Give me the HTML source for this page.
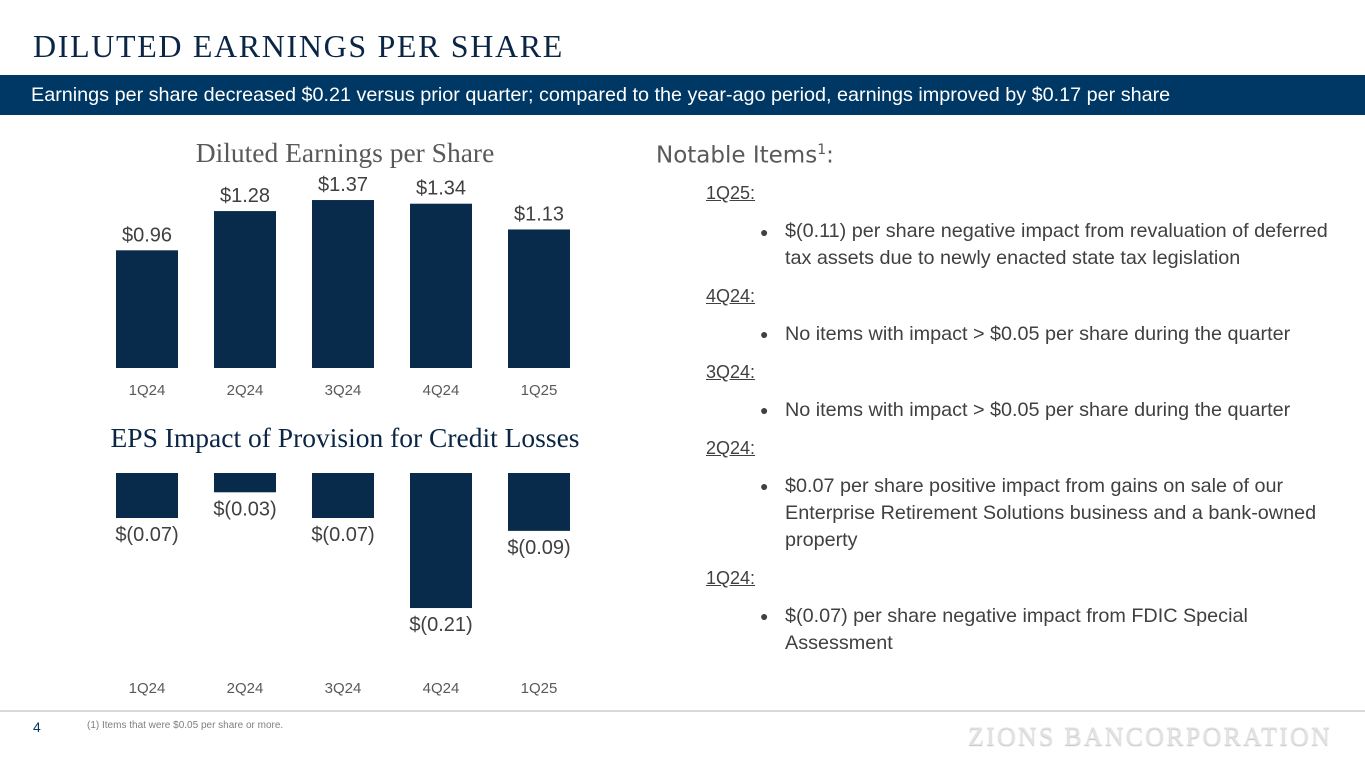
<!DOCTYPE html>
<html><head><meta charset="utf-8"><style>
body{margin:0;width:1365px;height:768px;overflow:hidden;background:#fff;position:relative;font-family:"Liberation Sans",sans-serif}
.a{position:absolute;white-space:nowrap}
.it{position:absolute;left:706px;font-size:18px;color:#404040;line-height:27px}
.h{text-decoration:underline}
.b{position:absolute;left:760px;font-size:14px;color:#404040}
.t{position:absolute;left:785px;font-size:19.8px;color:#404040;line-height:27px}
</style></head><body>
<div class="a" style="left:33px;top:28px;font-family:'Liberation Serif',serif;font-size:32px;color:#0b2645;letter-spacing:1.65px">DILUTED EARNINGS PER SHARE</div>
<div class="a" style="left:0;top:75px;width:1365px;height:40px;background:#003865"></div>
<div class="a" style="left:31px;top:84px;font-size:19.8px;color:#fff">Earnings per share decreased $0.21 versus prior quarter; compared to the year-ago period, earnings improved by $0.17 per share</div>

<svg class="a" style="left:0;top:120px" width="640" height="590">
<text x="345" y="42" text-anchor="middle" font-family="Liberation Serif,serif" font-size="27.5" fill="#595959">Diluted Earnings per Share</text>
<text x="345" y="327" text-anchor="middle" font-family="Liberation Serif,serif" font-size="27.5" fill="#0b2645">EPS Impact of Provision for Credit Losses</text>
<g id="g1"></g><g id="g2"></g>
</svg>

<div class="a" style="left:656px;top:142px;font-family:'DejaVu Sans',sans-serif;font-size:23px;color:#595959">Notable Items<sup style="font-size:14px">1</sup>:</div>
<div class="it h" style="top:180px">1Q25:</div>
<div class="b" style="top:224px">●</div>
<div class="t" style="top:218px">$(0.11) per share negative impact from revaluation of deferred<br>tax assets due to newly enacted state tax legislation</div>
<div class="it h" style="top:283px">4Q24:</div>
<div class="b" style="top:326px">●</div>
<div class="t" style="top:321px">No items with impact &gt; $0.05 per share during the quarter</div>
<div class="it h" style="top:359px">3Q24:</div>
<div class="b" style="top:402px">●</div>
<div class="t" style="top:397px">No items with impact &gt; $0.05 per share during the quarter</div>
<div class="it h" style="top:435px">2Q24:</div>
<div class="b" style="top:478px">●</div>
<div class="t" style="top:473px">$0.07 per share positive impact from gains on sale of our<br>Enterprise Retirement Solutions business and a bank-owned<br>property</div>
<div class="it h" style="top:565px">1Q24:</div>
<div class="b" style="top:608px">●</div>
<div class="t" style="top:603px">$(0.07) per share negative impact from FDIC Special<br>Assessment</div>

<div class="a" style="left:0;top:710px;width:1365px;height:2px;background:#d9d9d9"></div>
<div class="a" style="left:33px;top:719px;font-size:14px;color:#003865">4</div>
<div class="a" style="left:87px;top:720px;font-size:10px;color:#7f7f7f">(1) Items that were $0.05 per share or more.</div>
<div class="a" style="left:968px;top:722px;font-family:'Liberation Serif',serif;font-size:26px;color:#e3e3e3;letter-spacing:2.2px;text-shadow:0 1px 1px #bbb">ZIONS BANCORPORATION</div>

<script>
const categories=["1Q24","2Q24","3Q24","4Q24","1Q25"];
const epsValues=[0.96,1.28,1.37,1.34,1.13];
const provisionValues=[-0.07,-0.03,-0.07,-0.21,-0.09];
const NS="http://www.w3.org/2000/svg";
const xc=i=>147+i*98, bw=62;
const y1=v=>248-v*122.6;
const y2=v=>353-v*643;
function mk(tag,at,p){const e=document.createElementNS(NS,tag);for(const k in at)e.setAttribute(k,at[k]);p.appendChild(e);return e;}
const g1=document.getElementById('g1'),g2=document.getElementById('g2');
categories.forEach((c,i)=>{
  const v=epsValues[i];
  const r=mk('rect',{x:xc(i)-bw/2,y:y1(v),width:bw,height:y1(0)-y1(v),fill:'#082a4b'},g1);
  
  
  const t=mk('text',{x:xc(i),y:y1(v)-9,'text-anchor':'middle','font-size':20,fill:'#404040'},g1);t.textContent='$'+v.toFixed(2);
  
  
  const a=mk('text',{x:xc(i),y:275,'text-anchor':'middle','font-size':15,fill:'#595959'},g1);a.textContent=c;
  
  
  const p=provisionValues[i];
  const r2=mk('rect',{x:xc(i)-bw/2,y:y2(0),width:bw,height:y2(p)-y2(0),fill:'#082a4b'},g2);
  
  
  const t2=mk('text',{x:xc(i),y:y2(p)+23,'text-anchor':'middle','font-size':20,fill:'#404040'},g2);t2.textContent='$('+Math.abs(p).toFixed(2)+')';
  
  
  const a2=mk('text',{x:xc(i),y:573,'text-anchor':'middle','font-size':15,fill:'#595959'},g2);a2.textContent=c;
  
  
});
</script>
</body></html>
